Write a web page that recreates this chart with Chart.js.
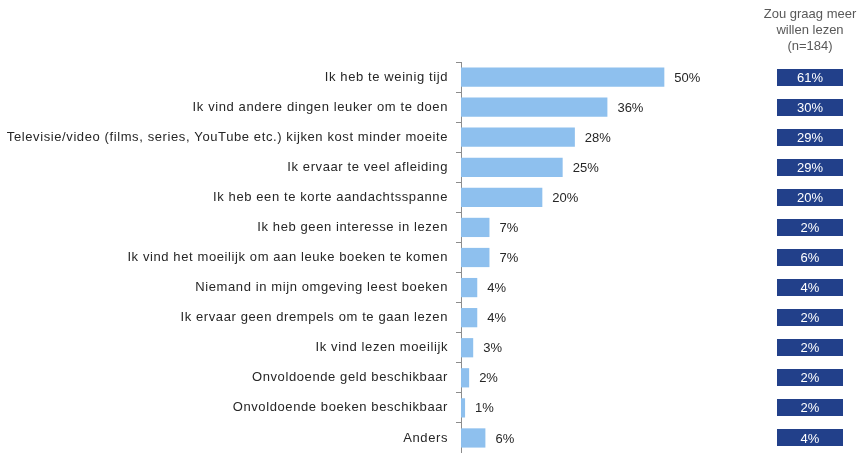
<!DOCTYPE html>
<html lang="nl">
<head>
    <meta charset="UTF-8">
    <title>Redenen om niet te lezen</title>
    <script src="https://cdn.jsdelivr.net/npm/chart.js"></script>
    <style>
        html, body { margin: 0; padding: 0; background: #ffffff; }
        #wrap { width: 862px; height: 453px; }
    </style>
</head>
<body>
    <div id="wrap">
        <canvas id="redenenChart" width="862" height="453"></canvas>
    </div>
    <script>
        // redenen (categorieen)
        var redenen = [
            'Ik heb te weinig tijd',
            'Ik vind andere dingen leuker om te doen',
            'Televisie/video (films, series, YouTube etc.) kijken kost minder moeite',
            'Ik ervaar te veel afleiding',
            'Ik heb een te korte aandachtsspanne',
            'Ik heb geen interesse in lezen',
            'Ik vind het moeilijk om aan leuke boeken te komen',
            'Niemand in mijn omgeving leest boeken',
            'Ik ervaar geen drempels om te gaan lezen',
            'Ik vind lezen moeilijk',
            'Onvoldoende geld beschikbaar',
            'Onvoldoende boeken beschikbaar',
            'Anders'
        ];
        // totaal (%)
        var totaal = [50, 36, 28, 25, 20, 7, 7, 4, 4, 3, 2, 1, 6];
        // groep die graag meer zou willen lezen (%)
        var meerLezen = [61, 30, 29, 29, 20, 2, 6, 4, 2, 2, 2, 2, 4];
        var kolomKop = ['Zou graag meer', 'willen lezen', '(n=184)'];

        var FONT = '"Liberation Sans", Arial, sans-serif';

        // iets ruimere letters voor de categorielabels
        var spacingPlugin = {
            id: 'spacingPlugin',
            beforeDraw: function (chart) { chart.ctx.letterSpacing = '0.6px'; },
            beforeDatasetsDraw: function (chart) { chart.ctx.letterSpacing = '0px'; }
        };

        // percentages achter de balken + kolom rechts
        var labelPlugin = {
            id: 'labelPlugin',
            afterDatasetsDraw: function (chart) {
                var ctx = chart.ctx;
                var meta = chart.getDatasetMeta(0);
                var yScale = chart.scales.y;
                ctx.save();
                ctx.letterSpacing = '0px';
                ctx.font = '13px ' + FONT;
                ctx.textBaseline = 'middle';
                ctx.fillStyle = '#262626';
                ctx.textAlign = 'left';
                meta.data.forEach(function (bar, i) {
                    ctx.fillText(totaal[i] + '%', bar.x + 10, bar.y + 1);
                });

                // kolom "zou graag meer willen lezen"
                var colX = 777, colW = 66, boxH = 17;
                ctx.fillStyle = '#595959';
                ctx.textAlign = 'center';
                kolomKop.forEach(function (t, j) {
                    ctx.fillText(t, colX + colW / 2, 14 + j * 16);
                });
                meerLezen.forEach(function (v, i) {
                    var y = yScale.getPixelForValue(i);
                    ctx.fillStyle = '#22408a';
                    ctx.fillRect(colX, Math.round(y - boxH / 2), colW, boxH);
                    ctx.fillStyle = '#ffffff';
                    ctx.fillText(v + '%', colX + colW / 2, y + 1);
                });
                ctx.restore();
            }
        };

        new Chart(document.getElementById('redenenChart'), {
            type: 'bar',
            data: {
                labels: redenen,
                datasets: [{
                    data: totaal,
                    backgroundColor: '#8ec0ee',
                    borderWidth: 0,
                    barPercentage: 0.64,
                    categoryPercentage: 1
                }]
            },
            options: {
                indexAxis: 'y',
                responsive: false,
                animation: false,
                layout: { padding: { top: 62, right: 96, bottom: 0, left: 0 } },
                plugins: {
                    legend: { display: false },
                    tooltip: { enabled: false }
                },
                scales: {
                    x: {
                        display: false,
                        min: 0,
                        max: 75
                    },
                    y: {
                        afterFit: function (scale) {
                            scale.width = 461;
                            scale.paddingTop = 0;
                            scale.paddingBottom = 0;
                        },
                        border: { display: true, color: '#8c8c8c', width: 1 },
                        grid: {
                            offset: true,
                            drawOnChartArea: false,
                            drawTicks: true,
                            tickLength: 5,
                            color: '#8c8c8c'
                        },
                        ticks: {
                            padding: 8,
                            color: '#262626',
                            font: { family: FONT, size: 13 }
                        }
                    }
                }
            },
            plugins: [spacingPlugin, labelPlugin]
        });
    </script>
</body>
</html>
